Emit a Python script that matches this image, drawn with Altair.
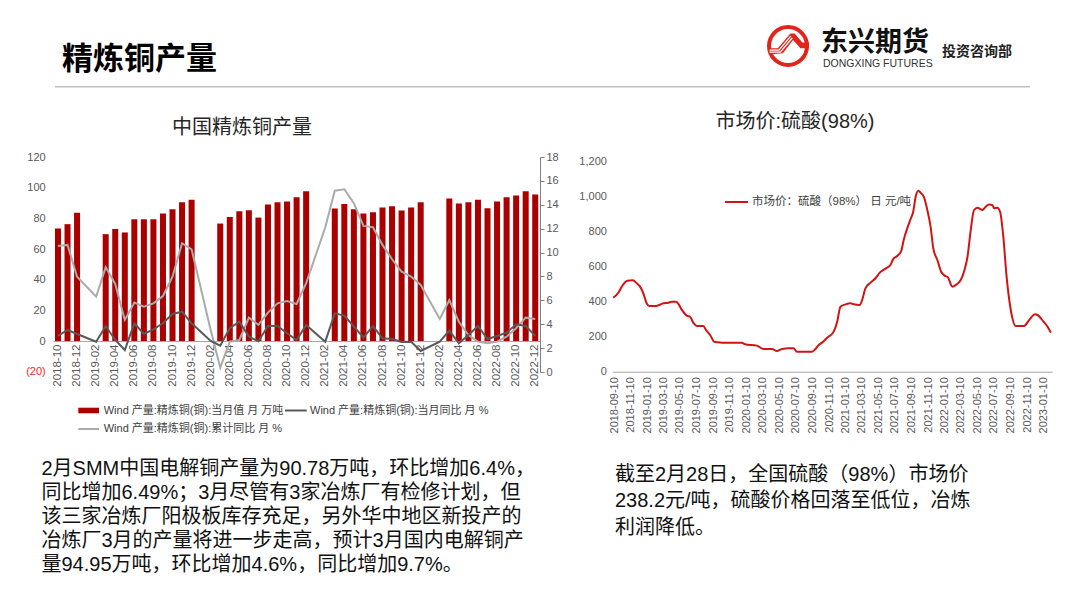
import altair as alt
import pandas as pd

# ---------------- data ----------------
months = ["2018-10", "2018-11", "2018-12",
          "2019-01", "2019-02", "2019-03", "2019-04", "2019-05", "2019-06",
          "2019-07", "2019-08", "2019-09", "2019-10", "2019-11", "2019-12",
          "2020-01", "2020-02", "2020-03", "2020-04", "2020-05", "2020-06",
          "2020-07", "2020-08", "2020-09", "2020-10", "2020-11", "2020-12",
          "2021-01", "2021-02", "2021-03", "2021-04", "2021-05", "2021-06",
          "2021-07", "2021-08", "2021-09", "2021-10", "2021-11", "2021-12",
          "2022-01", "2022-02", "2022-03", "2022-04", "2022-05", "2022-06",
          "2022-07", "2022-08", "2022-09", "2022-10", "2022-11", "2022-12"]

# 当月值 万吨
output = [73.4, 76.2, 83.6,
          None, None, 69.7, 73.1, 70.8, 79.4,
          79.4, 79.4, 83.1, 86.0, 90.5, 92.2,
          None, None, 76.6, 80.9, 84.6, 85.3,
          80.5, 89.0, 90.5, 91.0, 93.8, 97.7,
          None, None, 86.4, 89.4, 86.0, 83.1,
          84.0, 87.0, 87.9, 85.1, 87.0, 90.5,
          None, None, 92.9, 89.7, 90.5, 92.2,
          86.6, 91.0, 93.8, 94.9, 97.7, 95.5]

# 当月同比 %
yoy_month = [3.02, 3.52, 3.18,
             None, 2.54, 3.85, 2.68, 1.84, 4.08,
             3.18, 3.57, 4.08, 4.86, 5.05, 4.08,
             None, 2.60, 2.20, 3.66, 4.21, 2.96,
             2.57, 3.85, 3.85, 3.24, 2.68, 3.94,
             None, 2.54, 4.91, 4.72, 3.80, 2.90,
             3.85, 2.82, 2.76, 2.51, 2.54, 1.76,
             None, 2.54, 3.46, 2.40, 3.10, 3.85,
             2.76, 3.02, 3.29, 3.99, 3.85, 3.02]

# 累计同比 %
yoy_cum = [10.55, 10.64, 7.98,
           None, 6.31, 8.77, 7.37, 4.36, 5.81,
           5.47, 5.75, 6.36, 7.98, 10.78, 10.27,
           None, 3.52, 0.36, 2.54, 2.68, 4.55,
           3.94, 4.97, 5.75, 5.95, 5.69, 7.43,
           None, 12.1, 15.18, 15.30, 14.13, 12.23,
           12.12, 10.64, 9.44, 8.40, 7.98, 7.29,
           None, 4.44, 6.03, 4.21, 3.10, 2.54,
           2.40, 2.54, 2.96, 3.66, 4.55, 4.44]

acid_dates = ["2018-09-07", "2018-09-26", "2018-10-10", "2018-10-29", "2018-11-18", "2018-12-03",
              "2018-12-15", "2018-12-27", "2019-01-08", "2019-01-18", "2019-02-08", "2019-02-20",
              "2019-03-11", "2019-03-29", "2019-04-11", "2019-04-27", "2019-05-05", "2019-05-18",
              "2019-06-05", "2019-06-17", "2019-06-30", "2019-07-12", "2019-08-05", "2019-08-15",
              "2019-08-30", "2019-09-14", "2019-09-30", "2019-10-18", "2019-12-25", "2020-01-06",
              "2020-02-18", "2020-03-14", "2020-04-14", "2020-05-02", "2020-05-21", "2020-06-14",
              "2020-07-02", "2020-07-15", "2020-09-08", "2020-09-20", "2020-10-03", "2020-10-15",
              "2020-11-03", "2020-11-27", "2020-12-10", "2020-12-22", "2021-01-10", "2021-01-28",
              "2021-02-09", "2021-03-03", "2021-03-12", "2021-03-24", "2021-04-12", "2021-04-30",
              "2021-05-16", "2021-06-06", "2021-06-24", "2021-07-04", "2021-07-19", "2021-08-03",
              "2021-08-12", "2021-08-25", "2021-09-06", "2021-09-16", "2021-09-25", "2021-10-05",
              "2021-10-13", "2021-10-25", "2021-11-07", "2021-11-19", "2021-11-29", "2021-12-14",
              "2021-12-28", "2022-01-10", "2022-01-22", "2022-02-07", "2022-02-25", "2022-03-10",
              "2022-03-22", "2022-04-04", "2022-04-16", "2022-04-28", "2022-05-11", "2022-05-29",
              "2022-06-10", "2022-06-22", "2022-07-05", "2022-07-11", "2022-07-23", "2022-08-02",
              "2022-08-14", "2022-08-26", "2022-09-10", "2022-09-29", "2022-10-29", "2022-11-17",
              "2022-12-09", "2022-12-18", "2023-01-09", "2023-01-24", "2023-02-05"]

acid_price = [423, 451, 490, 520, 522, 505,
              486, 448, 391, 375, 375, 379,
              391, 394, 400, 400, 387, 353,
              320, 314, 277, 261, 261, 238,
              210, 171, 168, 165, 165, 157,
              149, 130, 130, 118, 130, 134,
              134, 114, 114, 128, 153, 166,
              194, 229, 286, 371, 385, 391,
              385, 381, 410, 476, 509, 534,
              566, 589, 610, 642, 661, 691,
              753, 819, 871, 914, 1000, 1034,
              1023, 1000, 924, 829, 705, 638,
              571, 549, 539, 486, 501, 524,
              571, 657, 810, 924, 937, 924,
              943, 956, 952, 934, 937, 914,
              771, 543, 357, 261, 261, 295,
              328, 324, 286, 257, 223]

acid_ticks = ["2018-09-10", "2018-11-10", "2019-01-10", "2019-03-10", "2019-05-10", "2019-07-10",
              "2019-09-10", "2019-11-10", "2020-01-10", "2020-03-10", "2020-05-10", "2020-07-10",
              "2020-09-10", "2020-11-10", "2021-01-10", "2021-03-10", "2021-05-10", "2021-07-10",
              "2021-09-10", "2021-11-10", "2022-01-10", "2022-03-10", "2022-05-10", "2022-07-10",
              "2022-09-10", "2022-11-10", "2023-01-10"]

left_ticks = [-20, 0, 20, 40, 60, 80, 100, 120]
right_ticks = [0, 2, 4, 6, 8, 10, 12, 14, 16, 18]
acid_y_ticks = [0, 200, 400, 600, 800, 1000, 1200]

para_left = ["2月SMM中国电解铜产量为90.78万吨，环比增加6.4%，",
             "同比增加6.49%；3月尽管有3家冶炼厂有检修计划，但",
             "该三家冶炼厂阳极板库存充足，另外华中地区新投产的",
             "冶炼厂3月的产量将进一步走高，预计3月国内电解铜产",
             "量94.95万吨，环比增加4.6%，同比增加9.7%。"]
para_right = ["截至2月28日，全国硫酸（98%）市场价",
              "238.2元/吨，硫酸价格回落至低位，冶炼",
              "利润降低。"]

# ---------------- layout helpers ----------------
W, H = 1064, 588
M = 8  # page margin


def X(p):
    return p - M


def Y(p):
    return p - M


FONT = "'Liberation Sans', 'Noto Sans CJK SC', sans-serif"
CJK = "'Noto Sans CJK SC', sans-serif"
AXIS_GREY = "#595959"


def one():
    return pd.DataFrame({"k": [0]})


def txt(s, x, y, size, color="#1a1a1a", align="left", weight="normal", font=FONT):
    return alt.Chart(pd.DataFrame({"t": [s]})).mark_text(
        align=align, baseline="middle", fontSize=size, fontWeight=weight, font=font, color=color
    ).encode(x=alt.value(X(x)), y=alt.value(Y(y)), text="t:N")


def hrule(x1, x2, y, color, width):
    return alt.Chart(one()).mark_rule(color=color, strokeWidth=width).encode(
        x=alt.value(X(x1)), x2=alt.value(X(x2)), y=alt.value(Y(y)))


layers = []

# ---------------- left chart: 中国精炼铜产量 ----------------
x_band = alt.Scale(type="band", domain=months, range=[X(53.2), X(540)],
                   paddingInner=0.37, paddingOuter=0.185)
y_left = alt.Scale(domain=[-20, 120], range=[Y(371.7), Y(157)], nice=False)
y_right = alt.Scale(domain=[0, 18], range=[Y(372), Y(157)], nice=False)

df_bar = pd.DataFrame({"month": months, "v": output}).dropna()
df_m = pd.DataFrame({"month": months, "v": yoy_month}).dropna()
df_c = pd.DataFrame({"month": months, "v": yoy_cum}).dropna()

bars = alt.Chart(df_bar).mark_bar(color="#AB0000").encode(
    x=alt.X("month:N", scale=x_band, title=None,
            axis=alt.Axis(orient="bottom", offset=Y(341) - H, values=months[::2], labelAngle=270,
                          labelFontSize=11.5, labelColor=AXIS_GREY, labelFont=FONT, labelPadding=3,
                          ticks=False, domainColor="#A6A6A6", domainWidth=1, grid=False,
                          labelOverlap=False, labelFlush=False)),
    y=alt.Y("v:Q", scale=y_left, title=None,
            axis=alt.Axis(orient="left", offset=-X(53.2), values=left_ticks,
                          labelExpr="datum.value < 0 ? '(' + (-datum.value) + ')' : datum.label",
                          labelColor={"condition": {"test": "datum.value < 0", "value": "#FF2020"},
                                      "value": AXIS_GREY},
                          labelFontSize=11, labelFont=FONT, labelPadding=8, ticks=False,
                          domain=False, grid=False, labelOverlap=False)),
)
line_m = alt.Chart(df_m).mark_line(color="#595959", strokeWidth=2).encode(
    x=alt.X("month:N", scale=x_band, axis=None),
    y=alt.Y("v:Q", scale=y_right, title=None,
            axis=alt.Axis(orient="right", offset=X(540) - W, values=right_ticks,
                          labelFontSize=11, labelFont=FONT, labelColor=AXIS_GREY, labelPadding=2,
                          tickSize=4, tickColor="#808080", domainColor="#808080", grid=False,
                          labelOverlap=False)),
)
line_c = alt.Chart(df_c).mark_line(color="#AAAAAA", strokeWidth=2).encode(
    x=alt.X("month:N", scale=x_band, axis=None),
    y=alt.Y("v:Q", scale=y_right, axis=None),
)
layers += [bars, line_c, line_m]

layers.append(txt("中国精炼铜产量", 242, 128, 20, color="#262626", align="center", font=CJK))

# legend
layers.append(alt.Chart(one()).mark_rect(color="#AB0000").encode(
    x=alt.value(X(78.3)), x2=alt.value(X(99)), y=alt.value(Y(407.7)), y2=alt.value(Y(413.3))))
layers.append(txt("Wind 产量:精炼铜(铜):当月值 月 万吨", 103.7, 410.5, 11, color="#404040"))
layers.append(hrule(285, 306.7, 410.5, "#595959", 2))
layers.append(txt("Wind 产量:精炼铜(铜):当月同比 月 %", 310, 410.5, 11, color="#404040"))
layers.append(hrule(78.3, 99, 429, "#AAAAAA", 2))
layers.append(txt("Wind 产量:精炼铜(铜):累计同比 月 %", 103.7, 429, 11, color="#404040"))

# ---------------- right chart: 市场价:硫酸(98%) ----------------
def dt(s):
    return alt.DateTime(year=int(s[:4]), month=int(s[5:7]), date=int(s[8:10]), utc=True)


x_time = alt.Scale(type="utc", domain=[dt("2018-09-04"), dt("2023-02-10")],
                   range=[X(612.4), X(1052.2)])
y_acid = alt.Scale(domain=[0, 1200], range=[Y(371.7), Y(161.7)], nice=False)

df_acid = pd.DataFrame({"date": acid_dates, "price": acid_price})
acid = alt.Chart(df_acid).mark_line(color="#D01414", strokeWidth=2, interpolate="monotone").encode(
    x=alt.X("date:T", scale=x_time, title=None,
            axis=alt.Axis(orient="bottom", offset=Y(371.7) - H, values=[dt(s) for s in acid_ticks],
                          labelExpr="utcFormat(datum.value, '%Y-%m-%d')", labelAngle=270,
                          labelFontSize=11, labelFont=FONT, labelColor=AXIS_GREY, labelPadding=5,
                          ticks=False, domainColor="#A6A6A6", domainWidth=1, grid=False,
                          labelOverlap=False, labelFlush=False)),
    y=alt.Y("price:Q", scale=y_acid, title=None,
            axis=alt.Axis(orient="left", offset=-X(612.4), values=acid_y_ticks, format=",.0f",
                          labelFontSize=11, labelFont=FONT, labelColor=AXIS_GREY, labelPadding=6,
                          ticks=False, tickSize=0, domain=False, grid=False, labelOverlap=False)),
)
layers.append(acid)
layers.append(txt("市场价:硫酸(98%)", 795, 122, 20, color="#262626", align="center"))
layers.append(hrule(725, 748, 202, "#D01414", 2))
layers.append(txt("市场价：硫酸（98%） 日 元/吨", 752, 202, 11.5, color="#404040"))

# ---------------- header ----------------
layers.append(txt("精炼铜产量", 62, 60, 31, color="#000000", weight="bold", font=CJK))
layers.append(hrule(55, 1030, 86.7, "#BFBFBF", 1.5))

# logo
layers.append(alt.Chart(one()).mark_point(shape="circle", filled=False, color="#E1251B",
                                          strokeWidth=4, size=1444, opacity=1).encode(
    x=alt.value(X(788)), y=alt.value(Y(46))))
logo_shape = ("M-0.9,0.11 L-0.48,0.11 L0.11,-0.6 L0.32,-0.6 L0.68,-0.17 L1,-0.17 L1,0.11 "
              "L0.59,0.11 L0.24,-0.29 L-0.24,0.35 L-0.9,0.4 Z")
layers.append(alt.Chart(one()).mark_point(shape=logo_shape, filled=True, color="#E1251B",
                                          size=1764, opacity=1, strokeWidth=0).encode(
    x=alt.value(X(788)), y=alt.value(Y(46))))
stripes = ("M-0.88,0.2 L-0.43,0.2 L0.13,-0.47 M-0.88,0.29 L-0.36,0.29 L0.2,-0.38")
layers.append(alt.Chart(one()).mark_point(shape=stripes, filled=False, color="white",
                                          strokeWidth=1.3, size=1764, opacity=1).encode(
    x=alt.value(X(788)), y=alt.value(Y(46))))
layers.append(txt("东兴期货", 821, 42.5, 27, color="#111111", weight="bold", font=CJK))
layers.append(txt("DONGXING FUTURES", 823, 63.8, 10.5, color="#333333", font="'Liberation Sans', sans-serif"))
layers.append(txt("投资咨询部", 942, 51.5, 14, color="#222222", weight="bold", font=CJK))

# ---------------- paragraphs ----------------
for i, line in enumerate(para_left):
    layers.append(txt(line, 41.5, 469 + 24 * i, 20, color="#111111"))
for i, line in enumerate(para_right):
    layers.append(txt(line, 615, 475 + 26.3 * i, 20, color="#111111"))

chart = alt.layer(*layers).resolve_scale(x="independent", y="independent").properties(
    width=W, height=H, autosize=alt.AutoSizeParams(type="none"), padding=0
).configure_view(stroke=None)

chart.save("out.html", embed_options={"renderer": "svg", "actions": False})
